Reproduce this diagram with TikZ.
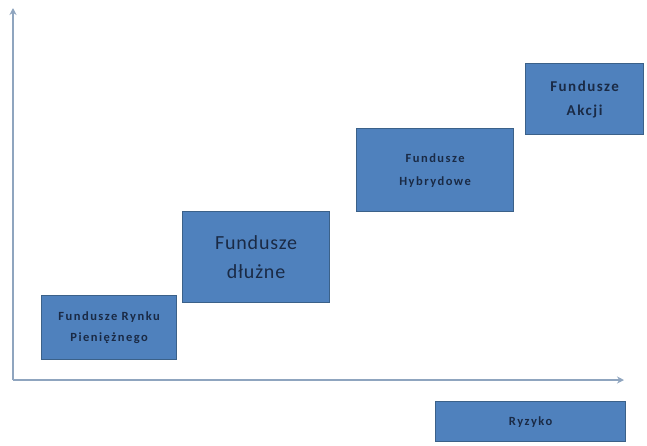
\documentclass[tikz,border=0pt]{standalone}
\usepackage{fontspec}
\setmainfont{Carlito}
\newfontfamily\fundwide[LetterSpace=12]{Carlito}
\newfontfamily\fundmid[LetterSpace=10]{Carlito}
\newfontfamily\fundbig[LetterSpace=4]{Carlito}
\usetikzlibrary{arrows.meta}
\definecolor{boxfill}{HTML}{4F81BD}
\definecolor{boxline}{HTML}{3B6189}
\definecolor{boxtext}{HTML}{1A2A45}
\definecolor{axiscol}{HTML}{8FA5BF}
\tikzset{
  fundbox/.style={draw=boxline, fill=boxfill, line width=1.2pt, text=boxtext,
    align=center, inner sep=0pt, anchor=north west},
  axisline/.style={draw=axiscol, line width=1.6pt, -{Stealth[length=7pt,width=7pt]}}
}
\begin{document}
\begin{tikzpicture}[x=1pt,y=-1pt]
\useasboundingbox (0,0) rectangle (647,445);
\coordinate (origin) at (13,380);
\coordinate (ytop) at (13,8);
\coordinate (xend) at (624,380);
\draw[axisline] (origin) -- (ytop);
\draw[axisline] (origin) -- (xend);

\node[fundbox, minimum width=135pt, minimum height=64pt, font=\fundwide\bfseries\fontsize{12.5}{21}\selectfont]
  (rynek) at (41,295) {Fundusze Rynku\\Pieniężnego};
\node[fundbox, minimum width=147pt, minimum height=91pt, font=\fundbig\fontsize{20}{29}\selectfont]
  (dlug) at (182,211) {Fundusze\\dłużne};
\node[fundbox, minimum width=157pt, minimum height=83pt, font=\fundwide\bfseries\fontsize{12.5}{23}\selectfont]
  (hybryd) at (356,128) {Fundusze\\Hybrydowe};
\node[fundbox, minimum width=118pt, minimum height=71pt, font=\fundmid\bfseries\fontsize{15}{24}\selectfont]
  (akcje) at (525,63) {Fundusze\\Akcji};
\node[fundbox, minimum width=190pt, minimum height=40pt, font=\fundwide\bfseries\fontsize{12.5}{14}\selectfont]
  (ryzyko) at (435,401) {Ryzyko};
\end{tikzpicture}
\end{document}
